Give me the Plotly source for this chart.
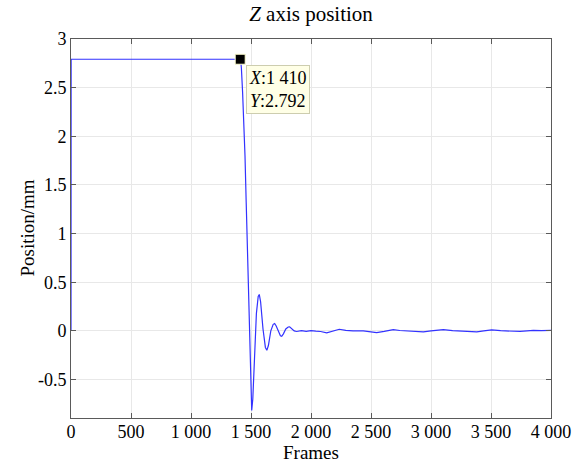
import plotly.graph_objects as go

# Data
frames = [0, 1, 200, 600, 1000, 1400, 1410, 1415, 1420, 1430, 1440, 1450, 1460, 1470, 1480,
          1490, 1500, 1506, 1515, 1530, 1545, 1560, 1569, 1580, 1600, 1620, 1632, 1645,
          1665, 1685, 1697, 1710, 1730, 1745, 1756, 1770, 1790, 1810, 1822, 1840, 1860,
          1880, 1920, 1960, 2000, 2040, 2080, 2131, 2180, 2236, 2290, 2350, 2436, 2490,
          2547, 2610, 2686, 2740, 2797, 2860, 2936, 3000, 3050, 3103, 3180, 3250, 3320,
          3381, 3440, 3506, 3580, 3660, 3742, 3800, 3853, 3920, 4000]
position = [0, 2.792, 2.792, 2.792, 2.792, 2.792, 2.792, 2.77, 2.70, 2.45, 2.18, 1.80, 1.32,
            0.86, 0.27, -0.33, -0.74, -0.817, -0.70, -0.22, 0.18, 0.355, 0.375, 0.30, 0.02,
            -0.17, -0.199, -0.15, 0.0, 0.068, 0.076, 0.05, -0.02, -0.05, -0.055, -0.03, 0.02,
            0.04, 0.041, 0.02, 0.0, -0.006, 0.002, -0.004, 0.003, -0.003, -0.006, -0.02,
            -0.002, 0.017, 0.006, 0.0, 0.0, -0.006, -0.017, -0.004, 0.014, 0.004, 0.0,
            -0.004, -0.01, 0.0, 0.006, 0.014, 0.003, -0.002, -0.004, -0.01, 0.0, 0.01,
            0.002, -0.002, -0.005, 0.0, 0.005, 0.002, 0.005]

tip_x = 1410
tip_y = 2.792

x_ticks = [0, 500, 1000, 1500, 2000, 2500, 3000, 3500, 4000]
x_tick_labels = ["0", "500", "1 000", "1 500", "2 000", "2 500", "3 000", "3 500", "4 000"]
y_ticks = [-0.5, 0, 0.5, 1, 1.5, 2, 2.5, 3]
y_tick_labels = ["-0.5", "0", "0.5", "1", "1.5", "2", "2.5", "3"]

FONT = "Liberation Serif"

# plot area in pixels
W, H = 573, 462
L, R, T, B = 71, 22, 39, 44
PW, PH = W - L - R, H - T - B

fig = go.Figure()
fig.add_trace(go.Scatter(x=frames, y=position, mode="lines",
                         line=dict(color="rgb(50,50,255)", width=1.2),
                         showlegend=False, hoverinfo="skip"))
fig.add_trace(go.Scatter(x=[tip_x], y=[tip_y], mode="markers",
                         marker=dict(symbol="square", size=10, color="black",
                                     line=dict(color="rgb(255,255,210)", width=1)),
                         showlegend=False, hoverinfo="skip"))

fig.add_annotation(x=tip_x, y=tip_y, xref="x", yref="y",
                   text="<i>X</i>:1 410<br><i>Y</i>:2.792",
                   showarrow=False, xanchor="left", yanchor="top",
                   xshift=6, yshift=-6, align="left",
                   bgcolor="rgb(255,255,230)", bordercolor="rgb(205,205,175)",
                   borderwidth=1, borderpad=2,
                   font=dict(family=FONT, size=18, color="black"))

# axis titles as annotations for exact placement
fig.add_annotation(x=0.5, y=-(452 - (H - B)) / PH, xref="paper", yref="paper",
                   text="Frames", showarrow=False, xanchor="center", yanchor="middle",
                   font=dict(family=FONT, size=19, color="black"))
fig.add_annotation(x=-(L - 27) / PW, y=0.5, xref="paper", yref="paper",
                   text="Position/mm", showarrow=False, xanchor="center", yanchor="middle",
                   textangle=-90, font=dict(family=FONT, size=19, color="black"))

axis_common = dict(showline=True, linecolor="rgb(90,90,90)", linewidth=1,
                   mirror="ticks", ticks="inside", ticklen=5, tickcolor="rgb(90,90,90)",
                   showgrid=True, gridcolor="rgb(232,232,232)", gridwidth=1,
                   zeroline=False, automargin=False,
                   tickfont=dict(family=FONT, size=18, color="black"))

fig.update_xaxes(range=[0, 4000], tickvals=x_ticks, ticktext=x_tick_labels,
                 ticklabelstandoff=-3, **axis_common)
fig.update_yaxes(range=[-0.895, 3], tickvals=y_ticks, ticktext=y_tick_labels,
                 **axis_common)

fig.update_layout(
    width=W, height=H,
    margin=dict(l=L, r=R, t=T, b=B, autoexpand=False),
    paper_bgcolor="white", plot_bgcolor="white",
    title=dict(text="<i>Z</i> axis position", x=(L + W - R) / 2 / W, xanchor="center",
               y=1 - 14 / H, yanchor="middle",
               font=dict(family=FONT, size=21, color="black")),
)

fig.write_html("out.html")
